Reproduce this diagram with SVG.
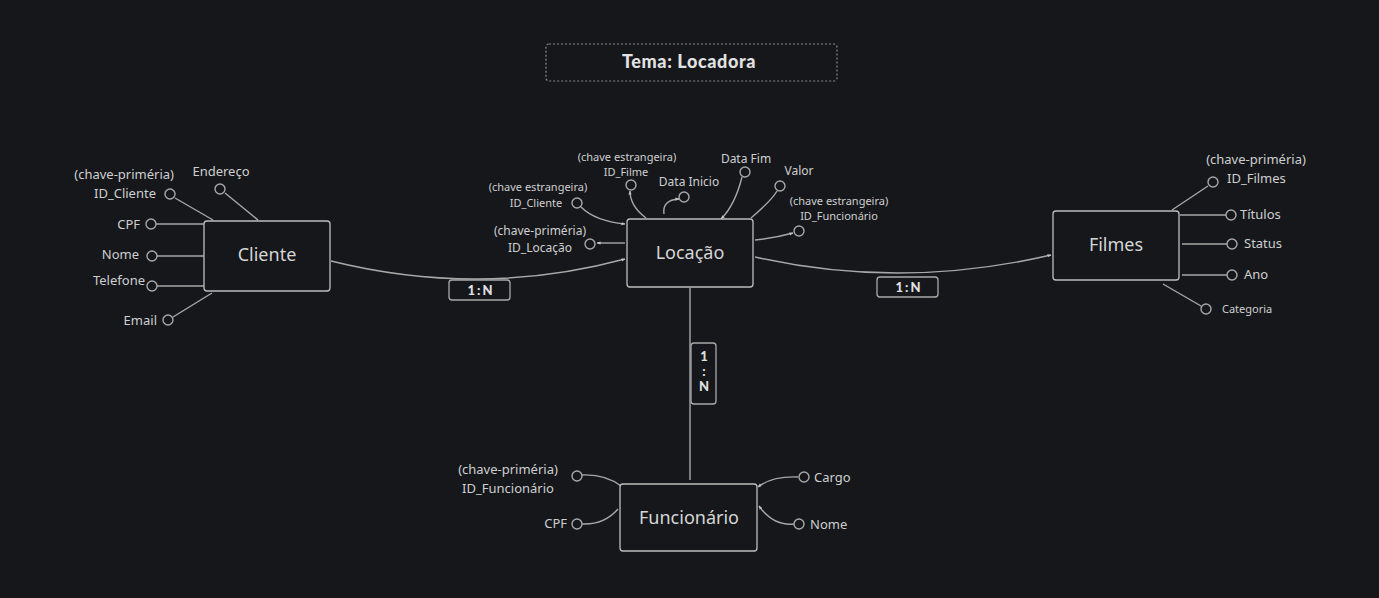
<svg xmlns="http://www.w3.org/2000/svg" width="1379" height="598" viewBox="0 0 1379 598">
<defs>
<marker id="ah" viewBox="0 0 10 10" refX="9" refY="5" markerWidth="4" markerHeight="4" orient="auto-start-reverse" markerUnits="userSpaceOnUse">
<path d="M0,1 L10,5 L0,9 z" fill="#c4c4c4"/>
</marker>
<style>
.bg{fill:#15171b}
.box{fill:#15171b;stroke:#bdbdbd;stroke-width:1.3}
.lbl{fill:#15171b;stroke:#a9a9a9;stroke-width:1.3}
.ln{fill:none;stroke:#a8a8a8;stroke-width:1.4}
.c{fill:none;stroke:#a8a8a8;stroke-width:1.4}
.t{font-family:"Noto Sans","Open Sans",sans-serif;fill:#cfcfcf;font-size:13px}
.m{font-family:"Noto Sans","Open Sans",sans-serif;fill:#cfcfcf;font-size:12px}
.s{font-family:"Noto Sans","Open Sans",sans-serif;fill:#cfcfcf;font-size:11px}
.n{font-family:"Noto Sans","Open Sans",sans-serif;fill:#d6d6d6;font-size:18px}
.r{font-family:"Lato","Noto Sans",sans-serif;fill:#e0e0e0;font-size:13px;font-weight:900;letter-spacing:2px}
.ttl{font-family:"Lato","Noto Sans",sans-serif;fill:#e2e2e2;font-size:18px;font-weight:900;letter-spacing:0.6px}
</style>
</defs>
<rect class="bg" x="0" y="0" width="1379" height="598"/>

<g id="title">
<rect x="546" y="44" width="291" height="37" rx="3" fill="none" stroke="#8a8a8a" stroke-width="1.2" stroke-dasharray="2,2"/>
<text class="ttl" x="689" y="68" text-anchor="middle">Tema: Locadora</text>
</g>

<g id="connectors">
<path class="ln" d="M331,261 Q480,298 625,259" marker-end="url(#ah)"/>
<path class="ln" d="M755,257 Q900,290 1051,255" marker-end="url(#ah)"/>
<path class="ln" d="M690,288 L690,480"/>
<path class="ln" d="M175,198 L213,220"/>
<path class="ln" d="M225,193 L258,220"/>
<path class="ln" d="M156,224 L204,224"/>
<path class="ln" d="M157,256 L204,256"/>
<path class="ln" d="M157,286 L204,286"/>
<path class="ln" d="M173,317 L212,293"/>
<path class="ln" d="M625,243 L597,243" marker-end="url(#ah)"/>
<path class="ln" d="M581,207 Q595,221 625,224" marker-end="url(#ah)"/>
<path class="ln" d="M646,218 Q630,206 630,191" marker-end="url(#ah)"/>
<path class="ln" d="M664,214 Q662,200 679,199" marker-end="url(#ah)"/>
<path class="ln" d="M742,177 Q735,205 721,219" marker-end="url(#ah)"/>
<path class="ln" d="M777,191 Q772,200 751,218"/>
<path class="ln" d="M755,240 Q775,238 793,233" marker-end="url(#ah)"/>
<path class="ln" d="M1172,210 L1208,186"/>
<path class="ln" d="M1180,215 L1226,215"/>
<path class="ln" d="M1182,244 L1227,244"/>
<path class="ln" d="M1182,275 L1227,275"/>
<path class="ln" d="M1163,284 L1201,306"/>
<path class="ln" d="M582,475 Q605,474 621,486"/>
<path class="ln" d="M582,524 Q604,525 618,509"/>
<path class="ln" d="M798,477 Q772,476 758,487" marker-end="url(#ah)"/>
<path class="ln" d="M794,524 Q773,526 759,506" marker-end="url(#ah)"/>
</g>

<g id="rel-cliente-locacao">
<rect class="lbl" x="449" y="280" width="61" height="20" rx="3"/>
<text class="r" x="481" y="295" text-anchor="middle">1:N</text>
</g>
<g id="rel-locacao-filmes">
<rect class="lbl" x="877" y="277" width="61" height="20" rx="3"/>
<text class="r" x="909" y="292" text-anchor="middle">1:N</text>
</g>
<g id="rel-locacao-funcionario">
<rect class="lbl" x="691" y="343" width="25" height="61" rx="3"/>
<text class="r" x="704" y="361" text-anchor="middle" style="letter-spacing:0">1</text>
<text class="r" x="704" y="376" text-anchor="middle" style="letter-spacing:0">:</text>
<text class="r" x="704" y="391" text-anchor="middle" style="letter-spacing:0">N</text>
</g>

<g id="cliente">
<rect class="box" x="204" y="221" width="126" height="70" rx="3"/>
<text class="n" x="267" y="261" text-anchor="middle">Cliente</text>
</g>
<g id="cliente-attrs">
<circle class="c" cx="170" cy="194" r="5"/>
<text class="t" x="174" y="179" text-anchor="end">(chave-priméria)</text>
<text class="t" x="156" y="198" text-anchor="end">ID_Cliente</text>
<circle class="c" cx="220" cy="189" r="5"/>
<text class="t" x="221" y="176" text-anchor="middle">Endereço</text>
<circle class="c" cx="151" cy="224" r="5"/>
<text class="t" x="140" y="229" text-anchor="end">CPF</text>
<circle class="c" cx="152" cy="256" r="5"/>
<text class="t" x="139" y="259" text-anchor="end">Nome</text>
<circle class="c" cx="152" cy="286" r="5"/>
<text class="t" x="145" y="285" text-anchor="end">Telefone</text>
<circle class="c" cx="168" cy="320" r="5"/>
<text class="t" x="157" y="325" text-anchor="end">Email</text>
</g>

<g id="locacao">
<rect class="box" x="627" y="219" width="126" height="68" rx="3"/>
<text class="n" x="690" y="259" text-anchor="middle">Locação</text>
</g>
<g id="locacao-attrs">
<circle class="c" cx="590" cy="244" r="5"/>
<text class="m" x="540" y="235" text-anchor="middle">(chave-priméria)</text>
<text class="m" x="540" y="252" text-anchor="middle">ID_Locação</text>
<circle class="c" cx="577" cy="203" r="5"/>
<text class="s" x="538" y="191" text-anchor="middle">(chave estrangeira)</text>
<text class="s" x="536" y="207" text-anchor="middle">ID_Cliente</text>
<circle class="c" cx="631" cy="185" r="5"/>
<text class="s" x="627" y="161" text-anchor="middle">(chave estrangeira)</text>
<text class="s" x="626" y="176" text-anchor="middle">ID_Filme</text>
<circle class="c" cx="684" cy="197" r="5"/>
<text class="m" x="689" y="186" text-anchor="middle">Data Inicio</text>
<circle class="c" cx="745" cy="172" r="5"/>
<text class="m" x="746" y="163" text-anchor="middle">Data Fim</text>
<circle class="c" cx="780" cy="186" r="5"/>
<text class="m" x="799" y="175" text-anchor="middle">Valor</text>
<circle class="c" cx="799" cy="231" r="5"/>
<text class="s" x="839" y="205" text-anchor="middle">(chave estrangeira)</text>
<text class="s" x="839" y="220" text-anchor="middle">ID_Funcionário</text>
</g>

<g id="filmes">
<rect class="box" x="1053" y="211" width="126" height="69" rx="3"/>
<text class="n" x="1116" y="251" text-anchor="middle">Filmes</text>
</g>
<g id="filmes-attrs">
<circle class="c" cx="1213" cy="182" r="5"/>
<text class="t" x="1256" y="164" text-anchor="middle">(chave-priméria)</text>
<text class="t" x="1227" y="183">ID_Filmes</text>
<circle class="c" cx="1231" cy="215" r="5"/>
<text class="t" x="1240" y="219">Títulos</text>
<circle class="c" cx="1232" cy="244" r="5"/>
<text class="t" x="1244" y="248">Status</text>
<circle class="c" cx="1232" cy="275" r="5"/>
<text class="t" x="1244" y="279">Ano</text>
<circle class="c" cx="1206" cy="309" r="5"/>
<text class="s" x="1222" y="313">Categoria</text>
</g>

<g id="funcionario">
<rect class="box" x="620" y="484" width="137" height="67" rx="3"/>
<text class="n" x="689" y="524" text-anchor="middle">Funcionário</text>
</g>
<g id="funcionario-attrs">
<circle class="c" cx="577" cy="476" r="5"/>
<text class="t" x="508" y="474" text-anchor="middle">(chave-priméria)</text>
<text class="t" x="508" y="493" text-anchor="middle">ID_Funcionário</text>
<circle class="c" cx="577" cy="524" r="5"/>
<text class="t" x="567" y="528" text-anchor="end">CPF</text>
<circle class="c" cx="804" cy="477" r="5"/>
<text class="t" x="814" y="482">Cargo</text>
<circle class="c" cx="799" cy="524" r="5"/>
<text class="t" x="810" y="529">Nome</text>
</g>
</svg>
